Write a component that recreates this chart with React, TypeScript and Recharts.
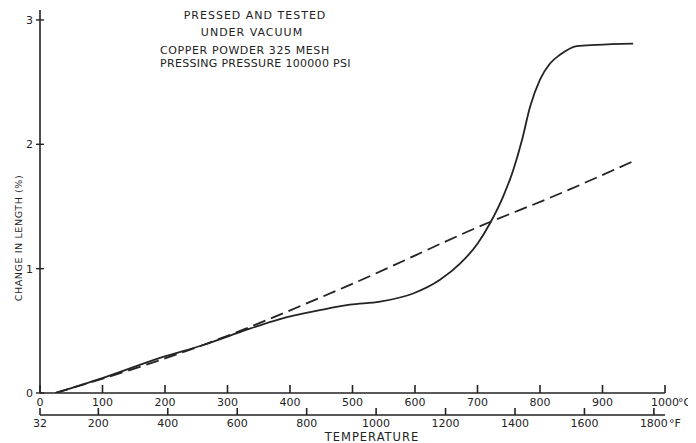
import React from "react";
import { LineChart, Line, XAxis, YAxis } from "recharts";

// Solid curve: compact, pressed and tested under vacuum (°C, % change)
const solidTemps = [25, 100, 197, 261, 320, 384, 450, 496, 544, 597, 640, 672, 700, 720, 741, 757, 771, 784, 800, 816, 832, 859, 890, 949];
const solidValues = [0, 0.12, 0.29, 0.386, 0.49, 0.595, 0.668, 0.71, 0.735, 0.8, 0.91, 1.04, 1.2, 1.365, 1.58, 1.79, 2.03, 2.3, 2.52, 2.65, 2.72, 2.79, 2.8, 2.81];

// Dashed curve: reference expansion
const dashedTemps = [25, 261, 496, 720, 816, 954];
const dashedValues = [0, 0.386, 0.87, 1.375, 1.57, 1.875];

const celsiusTicks = [0, 100, 200, 300, 400, 500, 600, 700, 800, 900, 1000];
const fahrenheitTicks = [32, 200, 400, 600, 800, 1000, 1200, 1400, 1600, 1800];
const yTicks = [0, 1, 2, 3];

const notes = ["PRESSED AND TESTED", "UNDER VACUUM", "COPPER POWDER 325 MESH", "PRESSING PRESSURE 100000 PSI"];

const solidData = solidTemps.map((t, i) => ({ t, v: solidValues[i] }));
const dashedData = dashedTemps.map((t, i) => ({ t, v: dashedValues[i] }));
const fScaleData = fahrenheitTicks.map((f) => ({ f, v: 0 }));

const INK = "#232323";
const FONT = "'DejaVu Sans', sans-serif";

const CTick = (props: any) => {
  const { x, y, payload } = props;
  return (
    <g>
      <line x1={x} x2={x} y1={y - 8} y2={y} stroke={INK} strokeWidth={1.6} />
      <text x={x} y={y + 13} textAnchor="middle" fontFamily={FONT} fontSize={11} fill={INK}>
        {payload.value}
      </text>
      {payload.value === 1000 && (
        <text x={x + 13} y={y + 13} textAnchor="start" fontFamily={FONT} fontSize={11} fill={INK}>
          °C
        </text>
      )}
    </g>
  );
};

const FTick = (props: any) => {
  const { x, y, payload } = props;
  return (
    <g>
      <line x1={x} x2={x} y1={y - 7} y2={y} stroke={INK} strokeWidth={1.6} />
      <text x={x} y={y + 12} textAnchor="middle" fontFamily={FONT} fontSize={11} fill={INK}>
        {payload.value}
      </text>
      {payload.value === 1800 && (
        <text x={x + 15} y={y + 12} textAnchor="start" fontFamily={FONT} fontSize={11} fill={INK}>
          °F
        </text>
      )}
    </g>
  );
};

const YTick = (props: any) => {
  const { x, y, payload } = props;
  return (
    <g>
      <line x1={x - 4} x2={x + 4} y1={y} y2={y} stroke={INK} strokeWidth={1.4} />
      <text x={x - 7} y={y + 4} textAnchor="end" fontFamily={FONT} fontSize={11} fill={INK}>
        {payload.value}
      </text>
    </g>
  );
};

export default function App() {
  return (
    <LineChart
      width={688}
      height={435}
      margin={{ top: 2, right: 31, left: 12, bottom: 0 }}
      style={{ background: "#ffffff" }}
    >
      <XAxis
        xAxisId="c"
        dataKey="t"
        type="number"
        domain={[0, 1000]}
        ticks={celsiusTicks}
        allowDataOverflow
        height={22}
        tickSize={0}
        tickMargin={0}
        tickLine={false}
        tick={<CTick />}
        axisLine={{ stroke: INK, strokeWidth: 1.6 }}
      />
      <XAxis
        xAxisId="f"
        dataKey="f"
        type="number"
        domain={[32, 1832]}
        ticks={fahrenheitTicks}
        allowDataOverflow
        height={28}
        tickSize={0}
        tickMargin={0}
        tickLine={false}
        tick={<FTick />}
        axisLine={{ stroke: INK, strokeWidth: 1.6 }}
      />
      <YAxis
        type="number"
        domain={[0, 3.08]}
        ticks={yTicks}
        allowDataOverflow
        width={20}
        tickSize={0}
        tickMargin={0}
        tickLine={false}
        tick={<YTick />}
        axisLine={{ stroke: INK, strokeWidth: 1.6 }}
      />
      <Line
        xAxisId="f"
        data={fScaleData}
        dataKey="v"
        stroke="none"
        dot={false}
        activeDot={false}
        legendType="none"
        isAnimationActive={false}
      />
      <Line
        xAxisId="c"
        data={dashedData}
        dataKey="v"
        type="monotone"
        stroke={INK}
        strokeWidth={1.8}
        strokeDasharray="13 6"
        dot={false}
        isAnimationActive={false}
      />
      <Line
        xAxisId="c"
        data={solidData}
        dataKey="v"
        type="monotone"
        stroke={INK}
        strokeWidth={1.8}
        dot={false}
        isAnimationActive={false}
      />
      <text x={247} y={11} textAnchor="middle" fontFamily={FONT} fontSize={11} letterSpacing={1} fill={INK}>
        {notes[0]}
      </text>
      <text x={244} y={28} textAnchor="middle" fontFamily={FONT} fontSize={11} letterSpacing={1} fill={INK}>
        {notes[1]}
      </text>
      <text x={152} y={46} textAnchor="start" fontFamily={FONT} fontSize={11} letterSpacing={0.6} fill={INK}>
        {notes[2]}
      </text>
      <text x={152} y={59} textAnchor="start" fontFamily={FONT} fontSize={11} letterSpacing={0.3} fill={INK}>
        {notes[3]}
      </text>
      <text
        x={10}
        y={230}
        transform="rotate(-90, 10, 230)"
        textAnchor="middle"
        dominantBaseline="central"
        fontFamily={FONT}
        fontSize={9.5}
        letterSpacing={0.6}
        fill={INK}
      >
        CHANGE IN LENGTH (%)
      </text>
      <text x={364} y={433} textAnchor="middle" fontFamily={FONT} fontSize={11.5} letterSpacing={1} fill={INK}>
        TEMPERATURE
      </text>
    </LineChart>
  );
}
